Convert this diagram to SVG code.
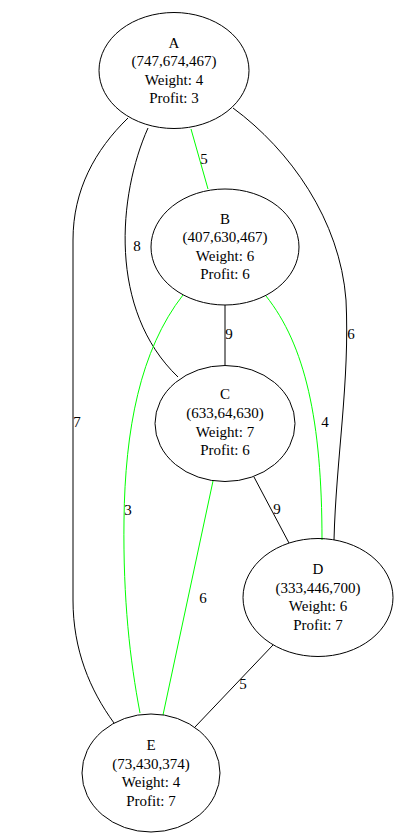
<svg xmlns="http://www.w3.org/2000/svg" width="405" height="837" viewBox="0 0 405 837">
<style>
.n ellipse{fill:none;stroke:#000;stroke-width:1}
text{font-family:"Liberation Serif","Times New Roman",serif;font-size:15px;fill:#000;text-anchor:middle}
.e path{fill:none;stroke:#000;stroke-width:1}
.e path.g{stroke:#00ff00}
</style>
<rect width="405" height="837" fill="#fff"/>
<g id="edges" class="e">
<path class="g" d="M191,129 L208,189"/>
<text x="204" y="164">5</text>
<path d="M148,128 C118,195 108,310 178,377"/>
<text x="137" y="251">8</text>
<path d="M128,118 C95,150 73,190 73,240 L73,600 C73,650 90,690 114,723"/>
<text x="77" y="427">7</text>
<path d="M233,108 C290,150 340,220 346,300 C350,380 336,460 334,540"/>
<text x="351" y="339">6</text>
<path d="M225,305 L225,365"/>
<text x="229" y="339">9</text>
<path class="g" d="M266,296 C305,345 322,420 322,540"/>
<text x="325" y="427">4</text>
<path class="g" d="M183,295 C140,350 125,430 124,520 C123,600 130,660 140,713"/>
<text x="128" y="515">3</text>
<path d="M254,477 L289,543"/>
<text x="277" y="514">9</text>
<path class="g" d="M213,481 L163,715"/>
<text x="203" y="603">6</text>
<path d="M273,645 L195,727"/>
<text x="243" y="689">5</text>
</g>
<g id="A" class="n">
<ellipse cx="174" cy="70.5" rx="75" ry="58"/>
<text x="174" y="47.5">A</text>
<text x="174" y="66">(747,674,467)</text>
<text x="174" y="84.5">Weight: 4</text>
<text x="174" y="103">Profit: 3</text>
</g>
<g id="B" class="n">
<ellipse cx="225" cy="247" rx="74" ry="58"/>
<text x="225" y="223.5">B</text>
<text x="225" y="242">(407,630,467)</text>
<text x="225" y="260.5">Weight: 6</text>
<text x="225" y="279">Profit: 6</text>
</g>
<g id="C" class="n">
<ellipse cx="225" cy="423.5" rx="70" ry="58"/>
<text x="225" y="399">C</text>
<text x="225" y="418">(633,64,630)</text>
<text x="225" y="436.5">Weight: 7</text>
<text x="225" y="455">Profit: 6</text>
</g>
<g id="D" class="n">
<ellipse cx="318" cy="597.5" rx="75" ry="59"/>
<text x="318" y="574">D</text>
<text x="318" y="592.5">(333,446,700)</text>
<text x="318" y="611">Weight: 6</text>
<text x="318" y="629.5">Profit: 7</text>
</g>
<g id="E" class="n">
<ellipse cx="151" cy="773" rx="69" ry="59"/>
<text x="151" y="749.5">E</text>
<text x="151" y="768.5">(73,430,374)</text>
<text x="151" y="787">Weight: 4</text>
<text x="151" y="805.5">Profit: 7</text>
</g>
</svg>
